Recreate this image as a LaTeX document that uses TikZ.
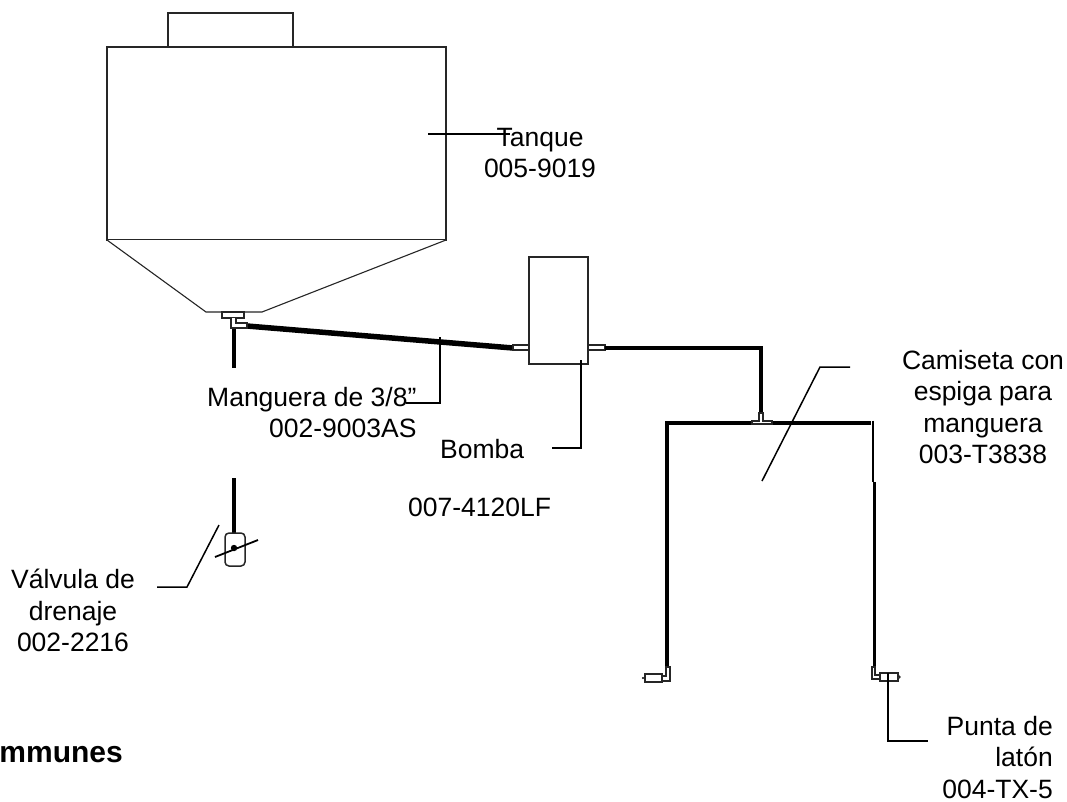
\documentclass[tikz,border=0pt]{standalone}
\usepackage{fontspec}
\setmainfont{Liberation Sans}
\tikzset{
 x=1pt,y=-1pt,
 outline/.style={draw=black!85,line width=1.1pt,fill=white},
 hose/.style={draw=black,line width=4.8pt},
 leader/.style={draw=black,line width=1.5pt},
 lbl/.style={inner sep=0pt,font=\fontsize{26.5}{31.6}\selectfont,align=center},
}
\begin{document}
\begin{tikzpicture}
\useasboundingbox (0,0) rectangle (1067,801);
% tank
\draw[outline] (168,13) rectangle (293,47);
\draw[outline] (107,47) rectangle (446,240);
\draw[outline] (107,240) -- (206,312) -- (262,312) -- (446,240);
\draw[outline] (222,312) rectangle (244,318);
% hoses
\draw[hose,line width=5.5pt] (247,326) -- (513,348);
\draw[hose] (234,328) -- (234,368);
\draw[hose] (234,478) -- (234,534);
\draw[outline] (231,318) -- (231,328) -- (247,328) -- (247,323) -- (236,323) -- (236,318);
% valve
\draw[outline,line width=1.5pt,rounded corners=4pt] (225,533) rectangle (245,566);
\draw[leader,line width=1.8pt] (215,557) -- (258,540);
\fill (234,548) circle (3.2);
% pump
\draw[outline] (529,257) rectangle (588,364);
\draw[outline] (513,345) rectangle (529,350);
\draw[outline] (588,345) rectangle (605,350);
\draw[hose,line join=miter] (605,348) -- (761,348) -- (761,414);
% manifold
\draw[hose,line join=miter] (871,423) -- (667,423) -- (667,667);
\draw[draw=black,line width=2pt] (873,420.5) -- (873,482);
\draw[draw=black,line width=3.8pt] (874.5,482) -- (874.5,667);
\draw[outline,fill=white] (759,413) -- (759,421) -- (752,421) -- (752,424) -- (772,424) -- (772,421) -- (763,421) -- (763,413) -- cycle;
% left elbow and nozzle
\draw[outline] (666,667) -- (666,676) -- (662,676) -- (662,681) -- (670,681) -- (670,667) -- cycle;
\draw[outline] (645,674) rectangle (662,682);
\fill (643,678) circle (1.2);
% right elbow and nozzle
\draw[outline] (872,667) -- (872,679) -- (880,679) -- (880,675) -- (875,675) -- (875,667) -- cycle;
\draw[outline] (880,673) rectangle (898,681);
\draw[outline] (898,675) -- (900,677) -- (898,679) -- cycle;
% labels
\node[lbl] (tanque) at (540,153) {Tanque\\005-9019};
\node[lbl,anchor=base west] (mang) at (207,406) {Manguera de 3/8”};
\node[lbl,anchor=base west] (mangn) at (269,437) {002-9003AS};
\node[lbl,anchor=base west] (bomba) at (440,458) {Bomba};
\node[lbl,anchor=base west] (bomban) at (408,516) {007-4120LF};
\node[lbl] (valv) at (73,610.5) {Válvula de\\drenaje\\002-2216};
\node[lbl] (cam) at (983,407) {Camiseta con\\espiga para\\manguera\\003-T3838};
\node[lbl,anchor=east,align=right] (punta) at (1053,757.5) {Punta de\\latón\\004-TX-5};
\node[inner sep=0pt,anchor=base east,font=\fontsize{30}{34}\bfseries\selectfont] (com) at (123,762) {mmunes};
% leaders
\coordinate (a1) at (428,134); \coordinate (a2) at (510,134);
\draw[leader] (a1) -- (a2);
\draw[leader] (440,337) -- (440,403) -- (406,403);
\draw[leader] (581,360) -- (581,448) -- (552,448);
\draw[leader] (850,367) -- (820,367) -- (762,481);
\draw[leader] (219,525) -- (187,587) -- (157,587);
\draw[leader] (888,673) -- (888,741) -- (928,741);
\end{tikzpicture}
\end{document}
